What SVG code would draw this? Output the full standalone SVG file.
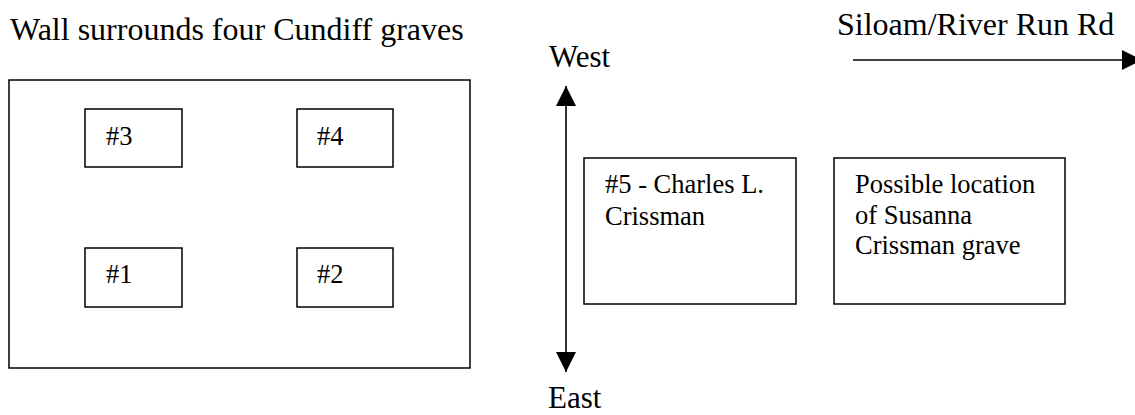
<svg xmlns="http://www.w3.org/2000/svg" width="1135" height="415" viewBox="0 0 1135 415">
<style>
  .box { fill: #ffffff; stroke: #000000; stroke-width: 1.5; }
  .lbl { font-family: "Liberation Serif", "Times New Roman", serif; fill: #000000; }
  .big { font-size: 32px; }
  .dir { font-size: 31px; }
  .small { font-size: 26.5px; }
  .conn { stroke: #000000; stroke-width: 1.6; fill: none; }
</style>
<defs>
  <marker id="arrow" markerUnits="userSpaceOnUse" markerWidth="20" markerHeight="20" viewBox="0 0 20 20" refX="20" refY="10" orient="auto-start-reverse">
    <path d="M0,0 L20,10 L0,20 z" fill="#000000"/>
  </marker>
</defs>
<rect width="1135" height="415" fill="#ffffff"/>

<g id="title">
  <text class="lbl big" x="10" y="40">Wall surrounds four Cundiff graves</text>
</g>

<g id="wall">
  <rect class="box" x="9" y="80" width="461" height="288"/>
</g>

<g id="grave3">
  <rect class="box" x="85" y="109" width="97" height="58"/>
  <text class="lbl small" x="106" y="145">#3</text>
</g>
<g id="grave4">
  <rect class="box" x="297" y="109" width="96" height="58"/>
  <text class="lbl small" x="317" y="145">#4</text>
</g>
<g id="grave1">
  <rect class="box" x="85" y="248" width="97" height="59"/>
  <text class="lbl small" x="106" y="283">#1</text>
</g>
<g id="grave2">
  <rect class="box" x="297" y="248" width="96" height="59"/>
  <text class="lbl small" x="317" y="283">#2</text>
</g>

<g id="grave5">
  <rect class="box" x="584" y="158" width="212" height="146"/>
  <text class="lbl small" x="605" y="193">#5 - Charles L.</text>
  <text class="lbl small" x="605" y="225">Crissman</text>
</g>

<g id="susanna">
  <rect class="box" x="834" y="158" width="231" height="146"/>
  <text class="lbl small" x="855" y="193">Possible location</text>
  <text class="lbl small" x="855" y="224">of Susanna</text>
  <text class="lbl small" x="855" y="254">Crissman grave</text>
</g>

<g id="west">
  <text class="lbl dir" x="549" y="67">West</text>
</g>
<g id="east">
  <text class="lbl dir" x="548" y="408">East</text>
</g>
<g id="road">
  <text class="lbl big" x="837" y="35">Siloam/River Run Rd</text>
</g>

<g id="connectors">
  <line class="conn" x1="566" y1="86" x2="566" y2="372" marker-start="url(#arrow)" marker-end="url(#arrow)"/>
  <line class="conn" x1="853" y1="60" x2="1142" y2="60" marker-end="url(#arrow)"/>
</g>
</svg>
